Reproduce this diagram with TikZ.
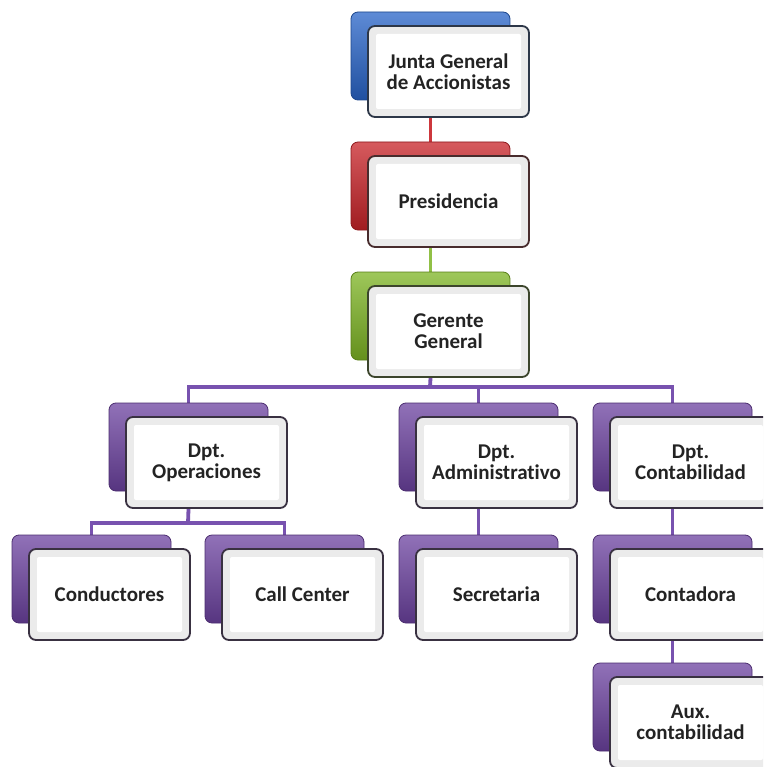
\documentclass[tikz,border=0pt]{standalone}
\usepackage{fontspec}
\setmainfont{Carlito}[Ligatures=NoCommon]
\usetikzlibrary{calc}
\definecolor{cblue}{RGB}{40,100,200}
\definecolor{cred}{RGB}{200,35,40}
\definecolor{cgreen}{RGB}{125,180,35}
\definecolor{cpurple}{RGB}{108,66,160}
\definecolor{lred}{RGB}{205,55,60}
\definecolor{lgreen}{RGB}{145,192,70}
\definecolor{lpurple}{RGB}{120,82,175}
\definecolor{ink}{RGB}{35,35,35}
\pgfdeclarelayer{background}
\pgfsetlayers{background,main}
\tikzset{
  backbox/.style={rectangle, rounded corners=7pt, minimum width=159pt, minimum height=88pt,
    inner sep=0pt, draw=#1!70!black, line width=0.8pt,
    top color=#1!75!white, middle color=#1, bottom color=#1!80!black},
  frontbox/.style={rectangle, rounded corners=7pt, minimum width=161pt, minimum height=91pt,
    inner sep=0pt, align=center, text=ink, draw=#1!20!black!85, line width=1.8pt,
    fill=gray!16,
    font=\fontsize{21}{21}\selectfont\bfseries,
    path picture={
      \fill[white, rounded corners=2pt]
        ([shift={(8pt,-8pt)}]path picture bounding box.north west) rectangle
        ([shift={(-8pt,8pt)}]path picture bounding box.south east);}},
  link/.style={line width=3.8pt, draw=#1}
}
% one unit of the chart: coloured back card and white front card
% #1 name, #2 left of back card, #3 top of back card, #4 colour, #5 text
\newcommand\orgunit[5]{%
  \node[backbox=#4] (#1b) at (#2+79.5,#3+44) {};
  \node[frontbox=#4] (#1) at (#2+97.5,#3+59.5) {#5};
}
\begin{document}
\begin{tikzpicture}[x=1pt,y=-1pt]
  \useasboundingbox (0,0) rectangle (763,767);
  \clip (0,0) rectangle (763,767);

  \orgunit{junta}{351}{12}{cblue}{Junta General\\de Accionistas}
  \orgunit{pres}{351}{142}{cred}{Presidencia}
  \orgunit{ger}{351}{272}{cgreen}{Gerente\\General}
  \orgunit{ops}{109}{403}{cpurple}{Dpt.\\Operaciones}
  \orgunit{adm}{399}{403}{cpurple}{Dpt.\\Administrativo}
  \orgunit{cont}{593}{403}{cpurple}{Dpt.\\Contabilidad}
  \orgunit{cond}{12}{535}{cpurple}{Conductores}
  \orgunit{call}{205}{535}{cpurple}{Call Center}
  \orgunit{sec}{399}{535}{cpurple}{Secretaria}
  \orgunit{contad}{593}{535}{cpurple}{Contadora}
  \orgunit{aux}{593}{663}{cpurple}{Aux.\\contabilidad}

  \coordinate (bus) at (430,387);
  \coordinate (sub) at (188,523);

  \begin{pgfonlayer}{background}
    \fill[white] (0,0) rectangle (763,767);
    \draw[link=lred] (junta.south -| presb.north) -- (presb.north);
    \draw[link=lgreen] (pres.south -| gerb.north) -- (gerb.north);
    \draw[link=lpurple] (ger.south -| gerb.north) -- (bus);
    \draw[link=lpurple] (opsb.north) -- (opsb.north |- bus) -- (bus -| contb.north) -- (contb.north);
    \draw[link=lpurple] (admb.north |- bus) -- (admb.north);
    \draw[link=lpurple] (ops.south -| opsb.north) -- (sub);
    \draw[link=lpurple] (condb.north) -- (condb.north |- sub) -- (sub -| callb.north) -- (callb.north);
    \draw[link=lpurple] (adm.south -| admb.north) -- (secb.north);
    \draw[link=lpurple] (cont.south -| contb.north) -- (contadb.north);
    \draw[link=lpurple] (contad.south -| contadb.north) -- (auxb.north);
  \end{pgfonlayer}
\end{tikzpicture}
\end{document}
